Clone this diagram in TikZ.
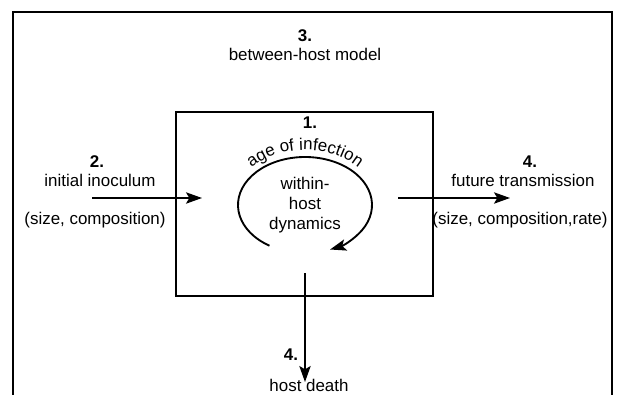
\documentclass[tikz,border=0pt]{standalone}
\usepackage{fontspec}
\setmainfont{Liberation Sans}
\usepackage{tikz}
\usetikzlibrary{arrows.meta,decorations.text}
\tikzstyle{frame} = [line width=1.4pt]
\tikzstyle{flow} = [line width=1.4pt,-{Stealth[length=12pt,width=8.5pt,inset=2.5pt]}]
\tikzstyle{lbl} = [inner sep=0pt,font=\fontsize{12.7}{15}\selectfont]
\tikzstyle{num} = [lbl,font=\fontsize{12.7}{15}\selectfont\bfseries]

\begin{document}
\begin{tikzpicture}[x=0.75pt,y=0.75pt]
\useasboundingbox (0,0) rectangle (619,394);

% between-host model (outer frame, open at the bottom)
\draw[frame] (13,-5) -- (13,382) -- (612,382) -- (612,-5);
\node[num] (n3) at (305,358) {3.};
\node[lbl] (between) at (305,340) {between-host model};

% within-host box
\draw[frame] (176,98) rectangle (433,282);
\node[num] (n1) at (310,271) {1.};
\node[lbl,align=center] (within) at (305,189) {within-\\host\\dynamics};

% age of infection loop
\coordinate (loop) at (305,189);
\draw[flow] ([shift={(238:67 and 48)}]loop) arc[start angle=238, end angle=-68, x radius=67, y radius=48];
\path[decorate,decoration={text along path,text align=center,
  text={|\fontsize{12.7}{15}\selectfont|age of infection}}]
  ([shift={(160:73 and 55)}]loop) arc[start angle=160, end angle=20, x radius=73, y radius=55];

% inoculum in
\node[num] (n2) at (97,232) {2.};
\node[lbl] (inoc) at (100,214) {initial inoculum};
\node[lbl] (inocsize) at (95,174) {(size, composition)};
\coordinate (inA) at (92,196);
\coordinate (inB) at (202,196);
\draw[flow] (inA) -- (inB);

% transmission out
\node[num] (n4a) at (530,232) {4.};
\node[lbl] (trans) at (523,214) {future transmission};
\node[lbl] (transsize) at (520,174) {(size, composition,rate)};
\coordinate (outA) at (398,196);
\coordinate (outB) at (510,196);
\draw[flow] (outA) -- (outB);

% host death
\coordinate (deathA) at (305,121);
\coordinate (deathB) at (305,12);
\draw[flow] (deathA) -- (deathB);
\node[num] (n4b) at (291,39) {4.};
\node[lbl] (death) at (309,9) {host death};
\end{tikzpicture}
\end{document}
